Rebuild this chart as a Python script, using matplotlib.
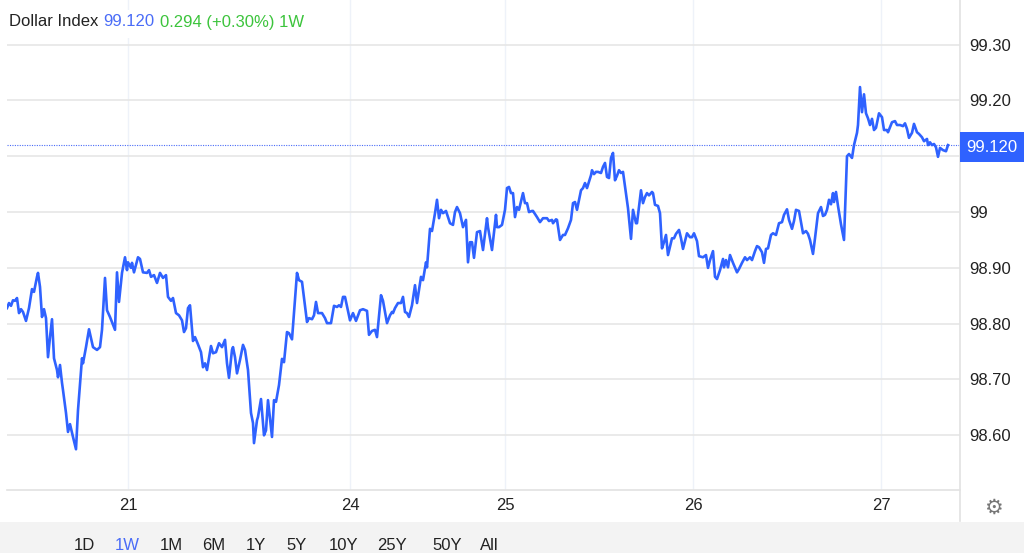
import matplotlib.pyplot as plt
from matplotlib.patches import Rectangle
from matplotlib.lines import Line2D

plt.rcParams["font.family"] = ["Liberation Sans", "DejaVu Sans"]

# time index (trading time, ~7.7 min per step) and index level
t = [
    0, 2, 4, 6, 8, 10, 12, 14, 16, 19,
    22, 25, 27, 30, 31, 33, 35, 37, 39, 41,
    43, 45, 47, 50, 51, 53, 55, 56, 59, 61,
    63, 66, 69, 71, 75, 76, 79, 82, 86, 90,
    93, 95, 98, 100, 103, 108, 110, 112, 115, 118,
    120, 121, 124, 125, 127, 131, 133, 136, 140, 142,
    144, 147, 150, 153, 156, 159, 161, 164, 166, 169,
    172, 175, 177, 179, 181, 183, 186, 188, 191, 194,
    196, 198, 200, 204, 206, 209, 212, 215, 218, 220,
    222, 225, 226, 228, 230, 233, 236, 238, 241, 244,
    246, 247, 250, 251, 254, 257, 259, 261, 265, 267,
    269, 272, 275, 277, 280, 282, 285, 290, 292, 295,
    300, 302, 305, 307, 309, 311, 315, 318, 320, 324,
    327, 330, 332, 334, 336, 338, 343, 346, 349, 353,
    356, 360, 362, 365, 368, 370, 374, 376, 380, 383,
    385, 386, 388, 391, 394, 396, 398, 400, 402, 405,
    408, 410, 414, 416, 419, 420, 423, 425, 428, 430,
    432, 434, 436, 439, 443, 446, 448, 450, 453, 456,
    459, 461, 463, 465, 467, 470, 473, 476, 480, 481,
    485, 489, 490, 492, 495, 498, 500, 502, 504, 506,
    508, 510, 512, 516, 518, 520, 522, 525, 526, 530,
    533, 536, 540, 542, 545, 546, 549, 550, 553, 556,
    558, 561, 564, 566, 568, 570, 574, 576, 578, 580,
    584, 585, 587, 589, 591, 594, 596, 598, 600, 602,
    604, 606, 608, 610, 612, 614, 616, 621, 624, 626,
    629, 630, 634, 636, 638, 640, 642, 645, 646, 648,
    651, 653, 655, 657, 659, 661, 665, 667, 669, 672,
    674, 676, 680, 683, 685, 687, 690, 692, 696, 699,
    701, 703, 706, 708, 710, 713, 716, 717, 719, 721,
    723, 726, 730, 732, 735, 738, 740, 743, 745, 748,
    750, 752, 755, 757, 759, 761, 764, 766, 769, 772,
    775, 777, 780, 782, 785, 787, 789, 792, 796, 799,
    801, 803, 806, 808, 811, 814, 816, 818, 820, 822,
    824, 826, 827, 829, 831, 834, 837, 840, 842, 845,
    847, 850, 851, 853, 855, 857, 859, 861, 863, 865,
    867, 869, 872, 875, 877, 880, 881, 885, 888, 890,
    893, 896, 898, 900, 902, 905, 907, 910, 912, 915,
    917, 920, 921, 923, 925, 927, 929, 931, 933, 936,
    939, 941,
]
values = [
    98.828, 98.837, 98.832, 98.842, 98.841, 98.846, 98.819, 98.826, 98.821, 98.805,
    98.828, 98.862, 98.857, 98.884, 98.891, 98.866, 98.812, 98.826, 98.810, 98.740,
    98.776, 98.808, 98.738, 98.717, 98.704, 98.726, 98.694, 98.681, 98.640, 98.606,
    98.620, 98.597, 98.575, 98.645, 98.738, 98.729, 98.758, 98.790, 98.758, 98.753,
    98.758, 98.789, 98.882, 98.824, 98.812, 98.789, 98.892, 98.839, 98.891, 98.919,
    98.896, 98.910, 98.900, 98.909, 98.892, 98.919, 98.916, 98.892, 98.891, 98.896,
    98.884, 98.887, 98.873, 98.891, 98.882, 98.887, 98.848, 98.841, 98.846, 98.819,
    98.815, 98.806, 98.785, 98.792, 98.828, 98.833, 98.769, 98.776, 98.763, 98.749,
    98.722, 98.729, 98.717, 98.760, 98.747, 98.749, 98.765, 98.758, 98.771, 98.729,
    98.703, 98.753, 98.758, 98.740, 98.711, 98.735, 98.762, 98.753, 98.717, 98.640,
    98.622, 98.586, 98.627, 98.633, 98.665, 98.600, 98.609, 98.663, 98.597, 98.663,
    98.660, 98.690, 98.737, 98.731, 98.785, 98.783, 98.772, 98.891, 98.878, 98.875,
    98.803, 98.810, 98.808, 98.815, 98.839, 98.819, 98.819, 98.810, 98.801, 98.801,
    98.832, 98.830, 98.833, 98.830, 98.848, 98.848, 98.806, 98.819, 98.805, 98.824,
    98.826, 98.823, 98.780, 98.787, 98.789, 98.776, 98.851, 98.841, 98.801, 98.815,
    98.821, 98.819, 98.828, 98.837, 98.837, 98.848, 98.821, 98.819, 98.812, 98.833,
    98.869, 98.837, 98.884, 98.878, 98.910, 98.901, 98.970, 98.966, 98.998, 99.022,
    98.989, 99.004, 98.998, 99.002, 98.980, 98.977, 99.000, 99.009, 98.998, 98.973,
    98.986, 98.910, 98.946, 98.946, 98.918, 98.964, 98.966, 98.932, 98.989, 98.973,
    98.932, 98.995, 98.973, 98.973, 98.977, 99.004, 99.043, 99.045, 99.034, 99.034,
    98.991, 99.009, 99.004, 99.034, 99.016, 99.016, 99.000, 99.002, 99.002, 98.991,
    98.982, 98.989, 98.989, 98.984, 98.986, 98.980, 98.987, 98.986, 98.950, 98.959,
    98.959, 98.971, 98.986, 99.016, 99.018, 99.004, 99.039, 99.043, 99.052, 99.043,
    99.066, 99.075, 99.068, 99.072, 99.072, 99.070, 99.081, 99.088, 99.063, 99.061,
    99.097, 99.106, 99.057, 99.065, 99.075, 99.070, 99.072, 99.007, 98.952, 99.004,
    98.980, 98.980, 99.039, 99.016, 99.027, 99.034, 99.030, 99.036, 99.034, 99.013,
    99.011, 98.998, 98.935, 98.946, 98.959, 98.923, 98.953, 98.953, 98.961, 98.968,
    98.953, 98.934, 98.962, 98.955, 98.955, 98.962, 98.948, 98.921, 98.919, 98.923,
    98.900, 98.914, 98.930, 98.884, 98.880, 98.896, 98.916, 98.901, 98.914, 98.901,
    98.923, 98.909, 98.892, 98.898, 98.909, 98.919, 98.914, 98.919, 98.914, 98.930,
    98.939, 98.937, 98.928, 98.909, 98.934, 98.935, 98.959, 98.962, 98.959, 98.980,
    98.982, 98.995, 99.005, 98.986, 98.970, 98.984, 99.004, 99.002, 98.962, 98.966,
    98.961, 98.950, 98.925, 98.953, 98.998, 99.009, 98.993, 98.995, 99.004, 99.022,
    99.014, 99.034, 99.018, 99.036, 99.011, 98.978, 98.950, 99.100, 99.104, 99.097,
    99.120, 99.142, 99.156, 99.224, 99.179, 99.211, 99.177, 99.168, 99.156, 99.167,
    99.147, 99.151, 99.177, 99.170, 99.147, 99.147, 99.143, 99.161, 99.163, 99.156,
    99.156, 99.154, 99.159, 99.149, 99.133, 99.142, 99.158, 99.143, 99.140, 99.134,
    99.127, 99.131, 99.120, 99.125, 99.120, 99.122, 99.116, 99.099, 99.115, 99.111,
    99.109, 99.120,
]

day_ticks = [121, 343, 498, 686, 874]
day_labels = ["21", "24", "25", "26", "27"]
# the 99.10 label sits under the current-price box, so it is left blank
level_ticks = [98.6, 98.7, 98.8, 98.9, 99.0, 99.1, 99.2, 99.3]
level_labels = ["98.60", "98.70", "98.80", "98.90", "99", "", "99.20", "99.30"]
change_text = "0.294 (+0.30%) 1W"
ranges = ["1D", "1W", "1M", "6M", "1Y", "5Y", "10Y", "25Y", "50Y", "All"]
active_range = "1W"

LINE_BLUE = "#2f62ff"
W, H = 1024, 553

fig = plt.figure(figsize=(W / 100, H / 100), dpi=100)
ax = fig.add_axes([7 / W, (H - 490) / H, (960 - 7) / W, 490 / H])

ax.plot(t, values, color=LINE_BLUE, lw=1.9, solid_joinstyle="round", zorder=3)
last = values[-1]
ax.axhline(last, color="#4a6cf7", lw=0.8, ls=(0, (1, 1.2)), zorder=2)

ax.set_xlim(0, 953)
ax.set_ylim(98.502, 99.38)

ax.set_xticks(day_ticks, day_labels)
ax.set_yticks(level_ticks, level_labels)
ax.yaxis.tick_right()
ax.tick_params(axis="both", length=0, labelsize=12, colors="#222222")
ax.tick_params(axis="y", pad=7)
ax.tick_params(axis="x", pad=6)
ax.grid(axis="y", color="#e6e6e6", lw=1.2)
ax.grid(axis="x", color="#eef2f9", lw=1.0)
ax.set_axisbelow(True)

for side in ["top", "left", "right"]:
    ax.spines[side].set_visible(False)
ax.spines["bottom"].set_color("#e2e2e2")
ax.spines["bottom"].set_linewidth(1.2)

# right border line, runs down to the range bar
fig.add_artist(Line2D([960 / W, 960 / W], [(H - 521) / H, 1], color="#e2e2e2", lw=1.2))

# range selector band
fig.add_artist(Rectangle((0, 0), 1, (H - 522) / H, transform=fig.transFigure,
                         facecolor="#f3f3f3", edgecolor="none", zorder=1))
range_x = [84, 127, 171, 214, 256, 297, 344, 392, 447, 489]
for label, xp in zip(ranges, range_x):
    fig.text(xp / W, (H - 545) / H, label, ha="center", va="center", fontsize=12,
             color="#4a6cf7" if label == active_range else "#222222", zorder=3)

# gear icon
fig.text(993 / W, (H - 508) / H, "\u2699", ha="center", va="center", fontsize=15,
         color="#777777", family="DejaVu Sans")

# current price box
fig.canvas.draw()
y_disp = ax.transData.transform((0, last))[1]
fig.add_artist(Rectangle((960 / W, (y_disp - 17) / H), 64 / W, 30 / H,
                         transform=fig.transFigure, facecolor=LINE_BLUE,
                         edgecolor="none", zorder=4))
fig.text(992 / W, (y_disp - 2) / H, f"{last:.3f}", ha="center", va="center",
         fontsize=12, color="white", zorder=5)

# title with white backing
fig.add_artist(Rectangle((0, (H - 38) / H), 320 / W, 28 / H, transform=fig.transFigure,
                         facecolor="white", edgecolor="none", zorder=4))
title = fig.text(9 / W, (H - 22) / H, "Dollar Index", ha="left", va="center",
                 fontsize=12, color="#222222", zorder=5)
price = fig.text(0, 0, f"{last:.3f}", fontsize=12, color="#4a6cf7", zorder=5,
                 ha="left", va="center")
chg = fig.text(0, 0, change_text, fontsize=12, color="#3cc43c", zorder=5,
               ha="left", va="center")
r = fig.canvas.get_renderer()
x0 = title.get_window_extent(r).x1 + 5
price.set_position((x0 / W, (H - 22) / H))
x1 = price.get_window_extent(r).x1 + 5
chg.set_position((x1 / W, (H - 22) / H))

fig.savefig("out.png", dpi=100)
